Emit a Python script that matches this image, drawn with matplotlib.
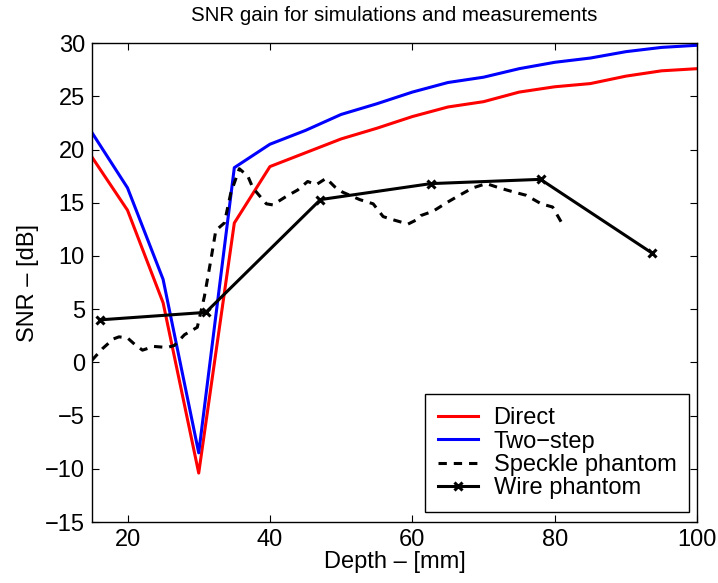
import matplotlib
matplotlib.use("Agg")
import matplotlib.pyplot as plt

plt.rcParams['font.family'] = ['Liberation Sans', 'DejaVu Sans']
plt.rcParams['lines.scale_dashes'] = False

# Simulated SNR gain (depth in mm, gain in dB)
depth_sim = [15, 20, 25, 30, 35, 40, 45, 50, 55, 60, 65, 70, 75, 80, 85, 90, 95, 100]
direct = [19.3, 14.3, 5.6, -10.4, 13.1, 18.4, 19.7, 21.0, 22.0, 23.1, 24.0, 24.5, 25.4, 25.9, 26.2, 26.9, 27.4, 27.6]
two_step = [21.6, 16.4, 7.8, -8.5, 18.3, 20.5, 21.8, 23.3, 24.3, 25.4, 26.3, 26.8, 27.6, 28.2, 28.6, 29.2, 29.6, 29.8]

# Speckle phantom measurement
depth_speckle = [15.0, 16.5, 18.0, 18.8, 20.0, 21.0, 22.1, 23.7, 25.6, 26.6, 28.0, 29.8,
                 30.8, 31.7, 32.4, 33.6, 34.5, 35.7, 36.9, 37.6, 39.5, 40.4, 42.3, 43.9,
                 45.3, 46.5, 47.9, 49.1, 50.2, 52.6, 54.5, 55.9, 57.3, 59.4, 60.6, 61.2,
                 62.9, 64.8, 66.6, 68.5, 70.4, 72.2, 74.3, 76.0, 78.1, 79.7, 80.9]
speckle = [0.2, 1.3, 2.2, 2.4, 2.3, 1.7, 1.15, 1.5, 1.4, 1.6, 2.6, 3.3,
           6.2, 9.6, 12.4, 13.1, 15.9, 18.2, 17.5, 16.4, 14.9, 14.8, 15.6, 16.2,
           17.0, 16.7, 17.3, 16.5, 16.0, 15.3, 14.9, 13.7, 13.4, 13.0, 13.4, 13.8,
           14.2, 15.0, 15.7, 16.4, 16.8, 16.4, 16.0, 15.7, 14.9, 14.6, 13.2]

# Wire phantom measurement
depth_wire = [16.2, 31.0, 47.1, 62.6, 78.0, 93.6]
wire = [4.0, 4.7, 15.3, 16.8, 17.2, 10.3]

fig = plt.figure(figsize=(7.18, 5.83), dpi=100)
ax = fig.add_axes([0.128, 0.1046, 0.843, 0.8214])

lw = 2.2
ax.plot(depth_sim, direct, color='#ff0000', lw=lw, label='Direct')
ax.plot(depth_sim, two_step, color='#0000ff', lw=lw, label='Two\u2212step')
ax.plot(depth_speckle, speckle, color='black', lw=lw, linestyle=(0, (6, 5)),
        label='Speckle phantom')
ax.plot(depth_wire, wire, color='black', lw=lw, marker='x', markersize=6,
        markeredgewidth=2.2, label='Wire phantom')

ax.set_xlim(15, 100)
ax.set_ylim(-15, 30)
ax.set_xticks([20, 40, 60, 80, 100])
ax.set_yticks(list(range(-15, 31, 5)))
ax.set_yticklabels([str(v).replace('-', '\u2212') for v in range(-15, 31, 5)])

fs = 17
ax.tick_params(direction='in', top=True, right=True, labelsize=fs,
               length=5, width=0.8, pad=5)
for s in ax.spines.values():
    s.set_linewidth(1.0)

ax.set_title('SNR gain for simulations and measurements', fontsize=14.8, pad=16)
ax.set_xlabel('Depth \u2013 [mm]', fontsize=fs, labelpad=0)
ax.set_ylabel('SNR \u2013 [dB]', fontsize=fs, labelpad=4)

leg = ax.legend(loc='lower right', bbox_to_anchor=(0.987, 0.021),
                borderaxespad=0, fontsize=fs, fancybox=False, framealpha=1,
                edgecolor='black', handlelength=1.7, handletextpad=0.65,
                labelspacing=0.05, borderpad=0.55)
leg.get_frame().set_linewidth(1.0)

fig.savefig('out.png', dpi=100)
